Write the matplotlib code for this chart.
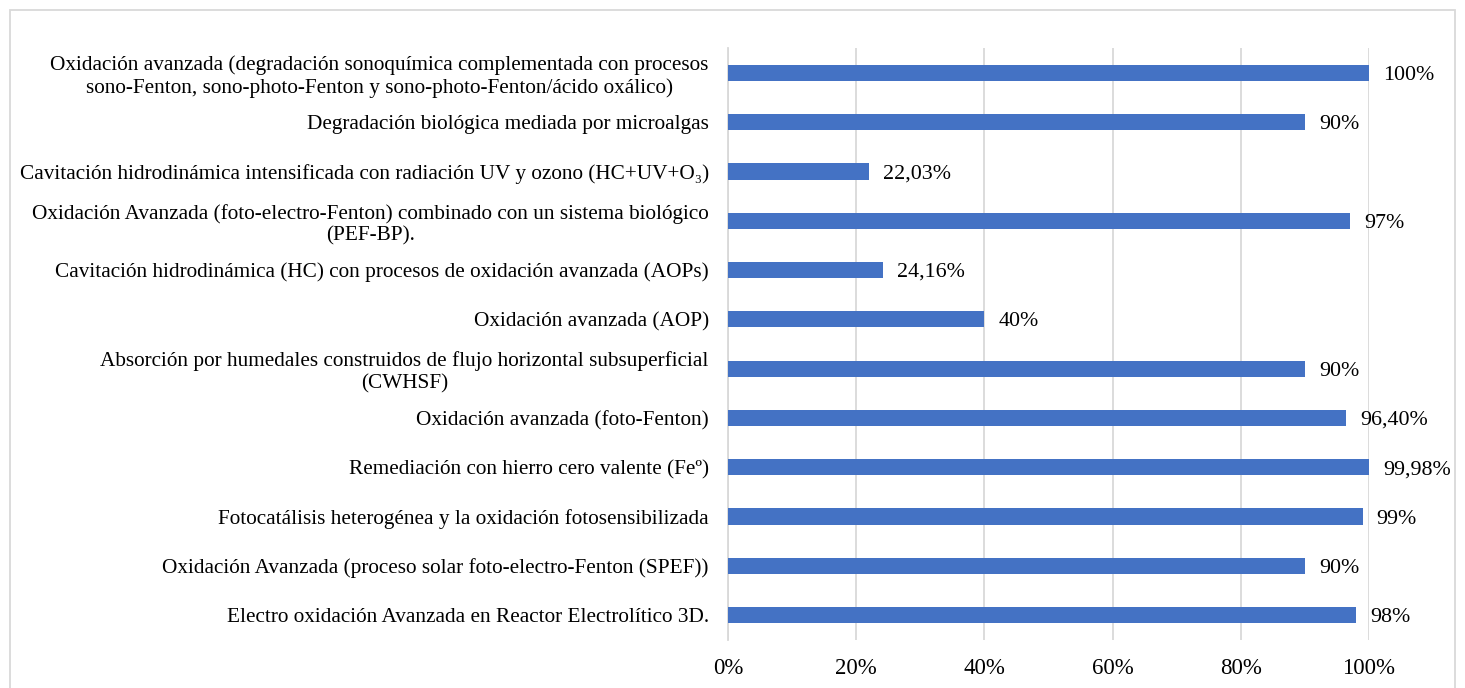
import matplotlib.pyplot as plt
from matplotlib.patches import Rectangle
import numpy as np

plt.rcParams['font.family'] = ['Liberation Serif', 'DejaVu Serif']

labels = [
    "Oxidación avanzada (degradación sonoquímica complementada con procesos\nsono-Fenton, sono-photo-Fenton y sono-photo-Fenton/ácido oxálico)",
    "Degradación biológica mediada por microalgas",
    "Cavitación hidrodinámica intensificada con radiación UV y ozono (HC+UV+O₃)",
    "Oxidación Avanzada (foto-electro-Fenton) combinado con un sistema biológico\n(PEF-BP).",
    "Cavitación hidrodinámica (HC) con procesos de oxidación avanzada (AOPs)",
    "Oxidación avanzada (AOP)",
    "Absorción por humedales construidos de flujo horizontal subsuperficial\n(CWHSF)",
    "Oxidación avanzada (foto-Fenton)",
    "Remediación con hierro cero valente (Feº)",
    "Fotocatálisis heterogénea y la oxidación fotosensibilizada",
    "Oxidación Avanzada (proceso solar foto-electro-Fenton (SPEF))",
    "Electro oxidación Avanzada en Reactor Electrolítico 3D.",
]
values = [1.00, 0.90, 0.2203, 0.97, 0.2416, 0.40, 0.90, 0.964, 0.9998, 0.99, 0.90, 0.98]
value_text = ["100%", "90%", "22,03%", "97%", "24,16%", "40%", "90%", "96,40%", "99,98%", "99%", "90%", "98%"]
ticks = [0, 0.2, 0.4, 0.6, 0.8, 1.0]
tick_text = ["0%", "20%", "40%", "60%", "80%", "100%"]

fig = plt.figure(figsize=(14.65, 6.88), dpi=100)
ax = fig.add_axes([0.497, 0.07, 0.4375, 0.86])

y = np.arange(len(labels))
ax.barh(y, values, height=0.33, color='#4472C4', zorder=3)
for yi, v, t in zip(y, values, value_text):
    ax.text(v + 0.022, yi + 0.05, t, va='center', ha='left', fontsize=15.8)

ax.set_ylim(len(labels) - 0.5, -0.5)
ax.set_xlim(0, 1.0)
ax.set_yticks(y)
ax.set_yticklabels(labels, fontsize=15.3, multialignment='center', linespacing=1.2)
ax.set_xticks(ticks)
ax.set_xticklabels(tick_text, fontsize=16.5)
ax.tick_params(axis='y', length=0, pad=14)
ax.tick_params(axis='x', length=0, pad=13)
ax.grid(axis='x', color='#D9D9D9', linewidth=1.3, zorder=0)
for s in ['top', 'right', 'bottom']:
    ax.spines[s].set_visible(False)
ax.spines['left'].set_color('#D9D9D9')
ax.spines['left'].set_linewidth(1.3)

fig.patches.append(Rectangle((10 / 1465, -0.01), 1445 / 1465, 1 - 10 / 688 + 0.01,
                             transform=fig.transFigure, fill=False,
                             edgecolor='#D9D9D9', linewidth=1.3))

fig.savefig('out.png', dpi=100)
